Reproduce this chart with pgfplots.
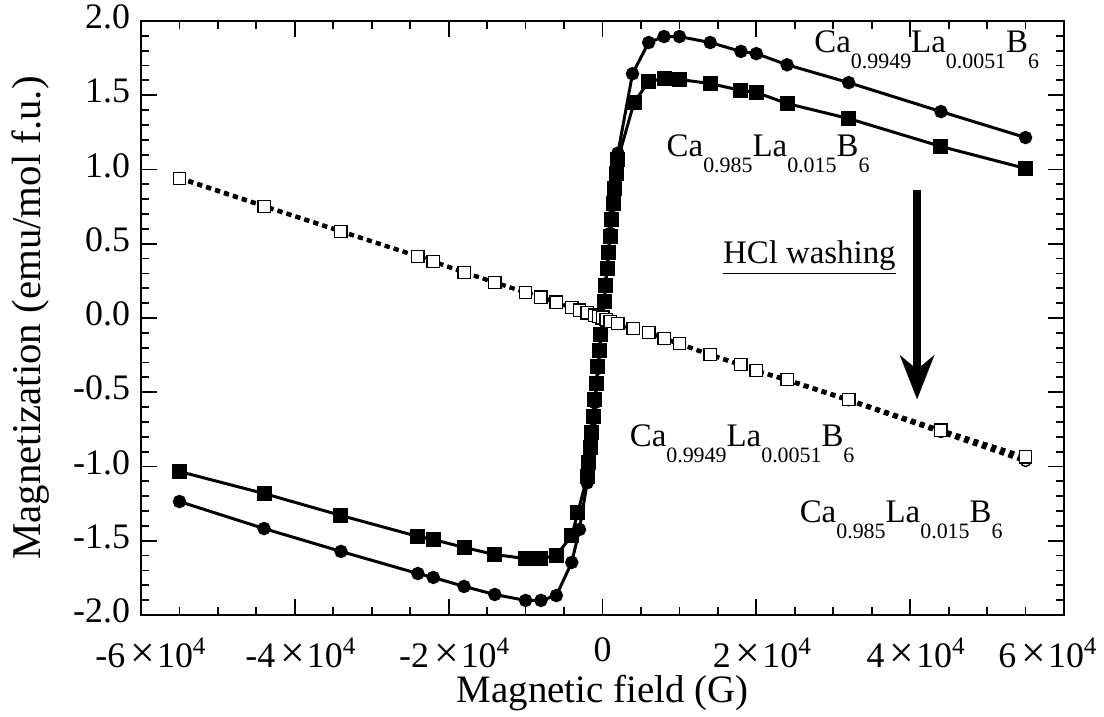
\documentclass[border=0pt]{standalone}
\usepackage{fontspec}
\setmainfont{Liberation Serif}
\usepackage{pgfplots}
\pgfplotsset{compat=1.18}
\usetikzlibrary{arrows.meta}
\newcommand{\sub}[1]{\raisebox{-0.48em}{\fontsize{11}{12}\selectfont #1}}
\newcommand{\formula}[2]{Ca\sub{#1}La\sub{#2}B\sub{6}}
\newcommand{\tk}[1]{#1\kern2.5bp{\fontsize{22}{22}\selectfont ×}\kern1bp 10\textsuperscript{4}}

\pgfplotstableread{
x y
-55000 -1.236
-44000 -1.418
-34000 -1.572
-24000 -1.721
-22000 -1.747
-18000 -1.808
-14000 -1.862
-10000 -1.902
-8000 -1.902
-6000 -1.869
-4000 -1.646
-3000 -1.424
-2000 -1.11
-1800 -1.00
-1600 -0.90
-1400 -0.79
-1200 -0.68
-1000 -0.57
-800 -0.45
-600 -0.34
-400 -0.23
-200 -0.11
0 0.0
200 0.11
400 0.23
600 0.34
800 0.45
1000 0.57
1200 0.68
1400 0.79
1600 0.90
1800 1.00
2000 1.11
3900 1.645
6000 1.855
8000 1.895
10000 1.895
14000 1.855
18000 1.795
20000 1.78
24000 1.705
32000 1.585
44000 1.39
55000 1.215
}\circfilled

\pgfplotstableread{
x y
-55000 -1.034
-44000 -1.182
-34000 -1.330
-24000 -1.471
-22000 -1.492
-18000 -1.545
-14000 -1.593
-10000 -1.620
-8000 -1.620
-6000 -1.599
-4000 -1.465
-3200 -1.31
-2000 -1.067
-1800 -0.97
-1600 -0.87
-1400 -0.77
-1200 -0.66
-1000 -0.55
-800 -0.44
-600 -0.33
-400 -0.22
-200 -0.11
0 0.0
200 0.11
400 0.22
600 0.33
800 0.44
1000 0.55
1200 0.66
1400 0.77
1600 0.87
1800 0.97
2000 1.067
4100 1.451
6000 1.592
8000 1.613
10000 1.606
14000 1.579
18000 1.532
20000 1.519
24000 1.444
32000 1.343
44000 1.155
55000 1.007
}\sqfilled

\pgfplotstableread{
x y
-55000 0.945
-44000 0.755
-34000 0.585
-24000 0.416
-22000 0.382
-18000 0.308
-14000 0.240
-10000 0.172
-8000 0.140
-6000 0.104
-4000 0.069
-3000 0.052
-2000 0.034
-1000 0.017
-500 0.008
0 0.0
500 -0.010
1000 -0.024
2000 -0.040
4000 -0.073
6000 -0.100
8000 -0.140
10000 -0.175
14000 -0.250
18000 -0.318
20000 -0.358
24000 -0.420
32000 -0.556
44000 -0.770
55000 -0.965
}\circopen

\pgfplotstableread{
x y
-55000 0.939
-44000 0.751
-34000 0.582
-24000 0.414
-22000 0.380
-18000 0.306
-14000 0.239
-10000 0.172
-8000 0.140
-6000 0.105
-4000 0.070
-3000 0.052
-2000 0.035
-1000 0.018
-500 0.010
0 0.0
500 -0.010
1000 -0.024
2000 -0.037
4000 -0.071
6000 -0.098
8000 -0.138
10000 -0.172
14000 -0.246
18000 -0.313
20000 -0.354
24000 -0.414
32000 -0.549
44000 -0.755
55000 -0.935
}\sqopen

\begin{document}
\begin{tikzpicture}
\begin{axis}[
  name=ax, at={(0,0)}, anchor=south west,
  scale only axis, width=461.5bp, height=297bp,
  xmin=-60000, xmax=60000, ymin=-2, ymax=2,
  scaled x ticks=false, scaled y ticks=false,
  xtick={-60000,-40000,-20000,0,20000,40000,60000},
  xticklabels={{\hspace*{10bp}-\tk{6}},{\hspace*{6bp}-\tk{4}},{\hspace*{6bp}-\tk{2}},0,{\hspace*{6bp}\tk{2}},{\hspace*{6bp}\tk{4}},{\hspace*{-16bp}\tk{6}}},
  minor x tick num=3,
  ytick={-2,-1.5,-1,-0.5,0,0.5,1,1.5,2},
  yticklabels={-2.0,-1.5,-1.0,-0.5,0.0,0.5,1.0,1.5,2.0},
  minor y tick num=4,
  tick align=inside,
  major tick length=8bp, minor tick length=4bp,
  axis line style={line width=1.2bp},
  every tick/.style={black, line width=0.9bp},
  tick label style={font=\fontsize{18}{20}\selectfont},
  xticklabel style={yshift=-8bp},
  yticklabel style={xshift=-2bp, yshift=2bp},
  xlabel={Magnetic field (G)},
  ylabel={Magnetization (emu/mol f.u.)},
  xlabel style={font=\fontsize{19.5}{22}\selectfont, at={(axis description cs:0.5,-0.148)}, anchor=base},
  ylabel style={font=\fontsize{20.5}{23}\selectfont, at={(axis description cs:-0.12,0.5)}, anchor=center},
  clip=false,
]
\addplot[black, line width=1.5bp, mark=*, mark size=2.6bp, mark options={solid, fill=black}] table {\circfilled};
\addplot[black, line width=1.5bp, mark=square*, mark size=3bp, mark options={solid, fill=black}] table {\sqfilled};
\addplot[black, line width=2bp, dash pattern=on 2.5bp off 2.2bp, mark=*, mark size=2.6bp, mark options={solid, fill=white, line width=0.7bp}] table {\circopen};
\addplot[black, line width=2bp, dash pattern=on 2.5bp off 2.2bp, mark=square*, mark size=3.1bp, mark options={solid, fill=white, line width=0.7bp}] table {\sqopen};

\node[anchor=base west, font=\fontsize{16.5}{19}\selectfont, inner sep=0pt] at (axis cs:27500,1.788) {\formula{0.9949}{0.0051}};
\node[anchor=base west, font=\fontsize{16.5}{19}\selectfont, inner sep=0pt] at (axis cs:8300,1.088) {\formula{0.985}{0.015}};
\node[anchor=base west, font=\fontsize{16.5}{19}\selectfont, inner sep=0pt] at (axis cs:3500,-0.865) {\formula{0.9949}{0.0051}};
\node[anchor=base west, font=\fontsize{16.5}{19}\selectfont, inner sep=0pt] at (axis cs:25600,-1.377) {\formula{0.985}{0.015}};
\node[anchor=center, font=\fontsize{16.5}{19}\selectfont, inner sep=0pt] at (axis cs:26900,0.407) {\underline{HCl washing}};
\draw[line width=4bp, -{Stealth[width=17bp,length=22bp,inset=7bp]}] (axis cs:40900,0.865) -- (axis cs:40900,-0.549);
\end{axis}
\pgfresetboundingbox
\path ([shift={(-70.5bp,-51bp)}]ax.south west) rectangle ([shift={(20bp,10.5bp)}]ax.north east);
\end{tikzpicture}
\end{document}
